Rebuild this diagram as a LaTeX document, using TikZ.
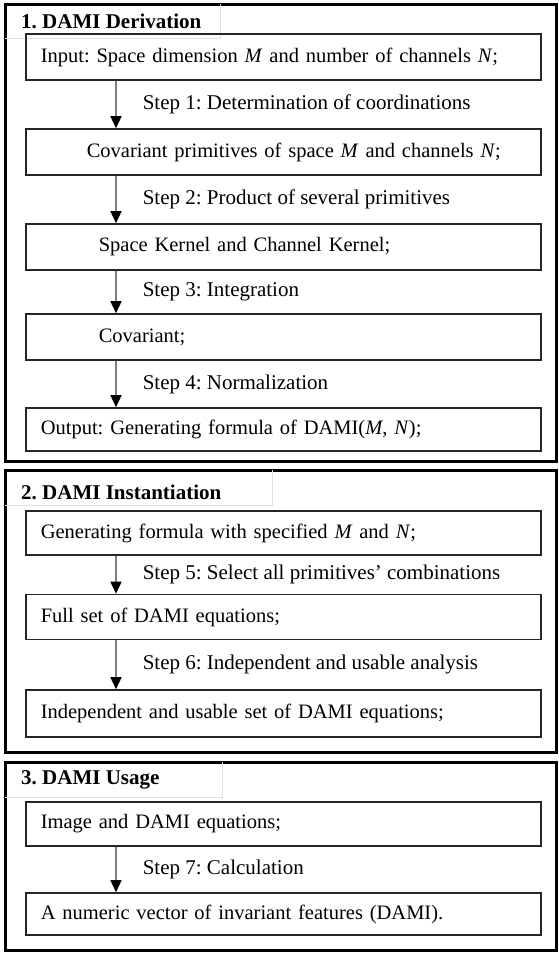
\documentclass[tikz,border=0pt]{standalone}
\usepackage{fontspec}
\setmainfont{Liberation Serif}
\usetikzlibrary{arrows.meta}
\frenchspacing

\tikzset{
    panel/.style={draw, line width=3pt},
    tagframe/.style={draw=black!12, line width=0.8pt},
    title/.style={anchor=west, inner sep=0pt, font=\fontsize{21}{25}\selectfont\bfseries},
    box/.style={draw=black!85, line width=1.6pt, anchor=west, minimum height=46pt, text width=485pt, inner xsep=15pt, inner ysep=0pt, align=left, font=\fontsize{20.5}{24}\selectfont},
    stepline/.style={draw=black!50, line width=1.5pt, -{Triangle[length=12pt,width=11pt,color=black]}},
    steplabel/.style={anchor=west, xshift=26pt, inner sep=0pt, font=\fontsize{21}{25}\selectfont}
}

\begin{document}
\begin{tikzpicture}[x=1pt,y=-1pt]
    \useasboundingbox (0,0) rectangle (558,954);
    \draw[panel] (5,4) rectangle (556,461);
    \draw[panel] (5,470) rectangle (556,752);
    \draw[panel] (5,762) rectangle (556,950);
    \draw[tagframe] (5,38) -| (220,4);
    \draw[tagframe] (5,505) -| (272,470);
    \draw[tagframe] (5,797) -| (222,762);

    \node[title] (t1) at (21,21) {1. DAMI Derivation};
    \node[box] (b1) at (25,57) {Input: Space dimension \textit{M} and number of channels \textit{N};};
    \node[box] (b2) at (25,152) {\hspace*{46pt}Covariant primitives of space \textit{M} and channels \textit{N};};
    \node[box] (b3) at (25,247) {\hspace*{58pt}Space Kernel and Channel Kernel;};
    \node[box] (b4) at (25,337) {\hspace*{58pt}Covariant;};
    \node[box, minimum height=43pt] (b5) at (25,429.5) {Output: Generating formula of DAMI(\textit{M}, \textit{N});};
    \draw[stepline] ([xshift=91pt]b1.south west) -- ([xshift=91pt]b2.north west) node (s1) [steplabel, midway] {Step 1: Determination of coordinations};
    \draw[stepline] ([xshift=91pt]b2.south west) -- ([xshift=91pt]b3.north west) node (s2) [steplabel, midway] {Step 2: Product of several primitives};
    \draw[stepline] ([xshift=91pt]b3.south west) -- ([xshift=91pt]b4.north west) node (s3) [steplabel, midway] {Step 3: Integration};
    \draw[stepline] ([xshift=91pt]b4.south west) -- ([xshift=91pt]b5.north west) node (s4) [steplabel, midway] {Step 4: Normalization};

    \node[title] (t2) at (21,492) {2. DAMI Instantiation};
    \node[box, minimum height=44pt] (b6) at (25,533) {Generating formula with specified \textit{M} and \textit{N};};
    \node[box, minimum height=45pt] (b7) at (25,617) {Full set of DAMI equations;};
    \node[box, minimum height=47pt] (b8) at (25,713.5) {Independent and usable set of DAMI equations;};
    \draw[stepline] ([xshift=91pt]b6.south west) -- ([xshift=91pt]b7.north west) node (s5) [steplabel, midway] {Step 5: Select all primitives' combinations};
    \draw[stepline] ([xshift=91pt]b7.south west) -- ([xshift=91pt]b8.north west) node (s6) [steplabel, midway] {Step 6: Independent and usable analysis};

    \node[title] (t3) at (21,780) {3. DAMI Usage};
    \node[box, minimum height=44pt] (b9) at (25,824) {Image and DAMI equations;};
    \node[box, minimum height=42pt] (b10) at (25,914) {A numeric vector of invariant features (DAMI).};
    \draw[stepline] ([xshift=91pt]b9.south west) -- ([xshift=91pt]b10.north west) node (s7) [steplabel, midway] {Step 7: Calculation};
\end{tikzpicture}
\end{document}
